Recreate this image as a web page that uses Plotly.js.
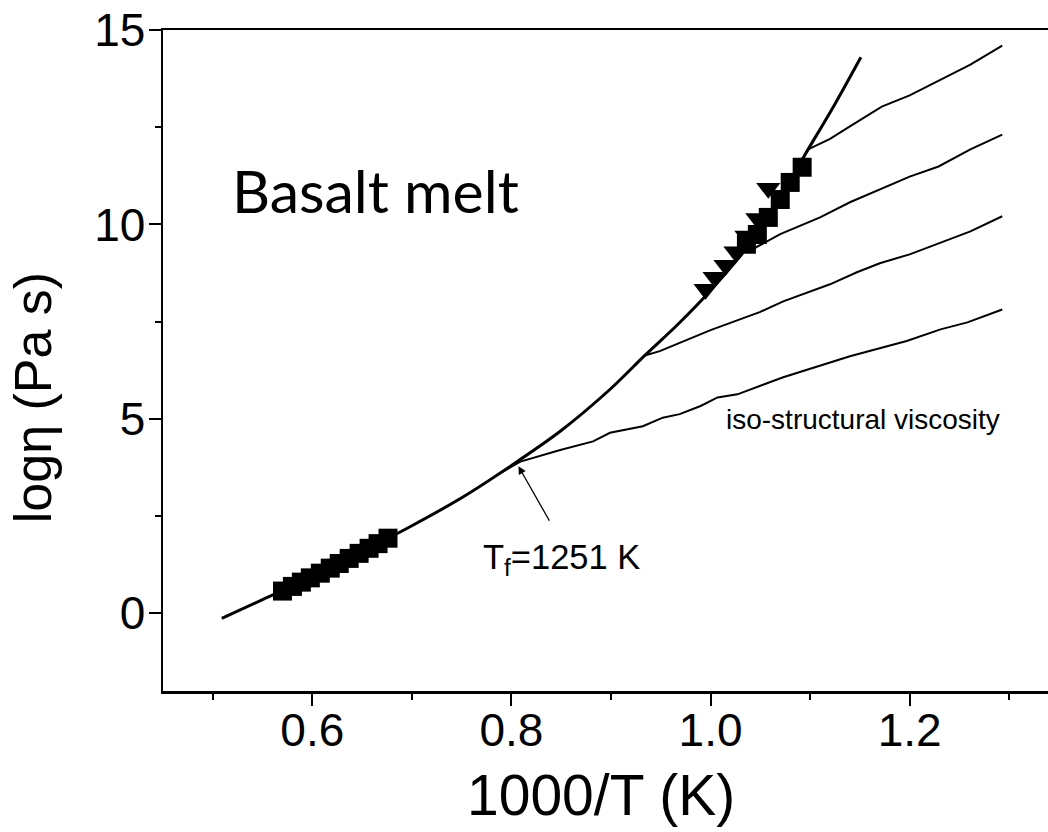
<!DOCTYPE html>
<html>
<head>
<meta charset="utf-8">
<script src="https://cdn.plot.ly/plotly-3.0.1.min.js"></script>
<style>
html,body{margin:0;padding:0;overflow:hidden;background:#fff;}
#chart{width:1070px;height:832px;}
</style>
</head>
<body>
<div id="chart"></div>
<script>
// Main (equilibrium) viscosity curve
const mainX = [0.509, 0.55, 0.60, 0.65, 0.70, 0.75, 0.80, 0.849, 0.90, 0.934, 0.966, 1.00, 1.05, 1.098, 1.125, 1.151];
const mainY = [-0.13, 0.35, 0.93, 1.58, 2.25, 2.97, 3.80, 4.68, 5.78, 6.63, 7.40, 8.30, 9.85, 11.93, 13.10, 14.30];

// High-temperature data (squares)
const sqHiX = [0.570, 0.580, 0.589, 0.598, 0.608, 0.618, 0.627, 0.637, 0.647, 0.657, 0.666, 0.676];
const sqHiY = [0.57, 0.69, 0.80, 0.91, 1.03, 1.16, 1.28, 1.41, 1.54, 1.67, 1.79, 1.93];

// Low-temperature data (squares)
const sqLoX = [1.036, 1.047, 1.058, 1.070, 1.080, 1.092];
const sqLoY = [9.49, 9.74, 10.18, 10.64, 11.08, 11.47];

// Low-temperature data (down triangles)
const triX = [0.995, 1.004, 1.015, 1.025, 1.036, 1.047, 1.058];
const triY = [8.33, 8.64, 8.95, 9.30, 9.70, 10.15, 10.93];

// Iso-structural viscosity lines
const iso1X = [0.785, 0.809, 0.849, 0.882, 0.899, 0.932, 0.952, 0.969, 0.990, 1.007, 1.027, 1.050, 1.073, 1.140, 1.197, 1.231, 1.258, 1.293];
const iso1Y = [3.55, 3.90, 4.20, 4.42, 4.64, 4.81, 5.03, 5.12, 5.33, 5.55, 5.63, 5.84, 6.07, 6.61, 7.00, 7.30, 7.48, 7.81];
const iso2X = [0.934, 0.949, 1.000, 1.050, 1.073, 1.120, 1.147, 1.170, 1.200, 1.230, 1.261, 1.293];
const iso2Y = [6.63, 6.74, 7.28, 7.75, 8.02, 8.46, 8.77, 9.00, 9.23, 9.53, 9.82, 10.21];
const iso3X = [1.035, 1.045, 1.070, 1.110, 1.140, 1.170, 1.200, 1.229, 1.261, 1.293];
const iso3Y = [9.40, 9.40, 9.75, 10.18, 10.57, 10.90, 11.23, 11.49, 11.93, 12.31];
const iso4X = [1.098, 1.120, 1.140, 1.172, 1.200, 1.231, 1.261, 1.293];
const iso4Y = [11.93, 12.20, 12.52, 13.03, 13.32, 13.73, 14.11, 14.60];

const FONT = 'Arial, "Liberation Sans", sans-serif';
const thin = {color:'#000', width:2};

const traces = [
  {x: iso1X, y: iso1Y, mode:'lines', line: thin, hoverinfo:'skip'},
  {x: iso2X, y: iso2Y, mode:'lines', line: thin, hoverinfo:'skip'},
  {x: iso3X, y: iso3Y, mode:'lines', line: thin, hoverinfo:'skip'},
  {x: iso4X, y: iso4Y, mode:'lines', line: thin, hoverinfo:'skip'},
  {x: mainX, y: mainY, mode:'lines', line:{color:'#000', width:3, shape:'spline', smoothing:0.8}},
  {x: sqHiX, y: sqHiY, mode:'markers', marker:{symbol:'square', size:19, color:'#000', line:{width:0}}},
  {x: triX, y: triY, mode:'markers', marker:{symbol:'triangle-down', size:21, color:'#000', line:{width:0}}},
  {x: sqLoX, y: sqLoY, mode:'markers', marker:{symbol:'square', size:19, color:'#000', line:{width:0}}}
];

const layout = {
  width: 1070, height: 832,
  margin: {l:163, r:11, t:30, b:141, pad:0},
  paper_bgcolor:'#fff', plot_bgcolor:'#fff',
  showlegend:false,
  font:{family:FONT, color:'#000'},
  xaxis:{
    range:[0.45, 1.35], tick0:0.2, dtick:0.2, tickformat:'.1f',
    ticks:'outside', ticklen:12, tickwidth:2, tickcolor:'#000',
    minor:{dtick:0.1, tick0:0.1, ticks:'outside', ticklen:6, tickwidth:2, tickcolor:'#000'},
    showline:true, linewidth:2.5, linecolor:'#000', mirror:true,
    showgrid:false, zeroline:false,
    tickfont:{size:46, family:FONT}, ticklabelstandoff:-15
  },
  yaxis:{
    range:[-2, 15], tick0:0, dtick:5,
    ticks:'outside', ticklen:12, tickwidth:2, tickcolor:'#000',
    minor:{dtick:2.5, tick0:0, ticks:'outside', ticklen:6, tickwidth:2, tickcolor:'#000'},
    showline:true, linewidth:2.5, linecolor:'#000', mirror:true,
    showgrid:false, zeroline:false,
    tickfont:{size:46, family:FONT}, ticklabelstandoff:-6
  },
  annotations:[
    {x:0.89, y:-0.158, xref:'x', yref:'paper', xanchor:'center', yanchor:'middle',
     text:'1000/T (K)', showarrow:false, font:{size:57, family:FONT}},
    {x:-0.145, y:0.443, xref:'paper', yref:'paper', xanchor:'center', yanchor:'middle',
     text:'log\u03B7 (Pa s)', showarrow:false, textangle:-90, font:{size:52, family:FONT}},
    {x:0.663, y:10.88, xref:'x', yref:'y', xanchor:'center', yanchor:'middle',
     text:'Basalt melt', showarrow:false, font:{size:59, family:'Lato, "Open Sans", sans-serif'}},
    {x:1.153, y:4.99, xref:'x', yref:'y', xanchor:'center', yanchor:'middle',
     text:'iso-structural viscosity', showarrow:false, font:{size:28, family:FONT}},
    {x:0.85, y:1.39, xref:'x', yref:'y', xanchor:'center', yanchor:'middle',
     text:'T<sub>f</sub>=1251 K', showarrow:false, font:{size:34.5, family:FONT}},
    {x:0.807, y:3.78, xref:'x', yref:'y', ax:0.839, ay:2.34, axref:'x', ayref:'y',
     text:'', showarrow:true, arrowhead:2, arrowsize:1.2, arrowwidth:1.3, arrowcolor:'#000', standoff:0}
  ]
};

Plotly.newPlot('chart', traces, layout, {displayModeBar:false, staticPlot:true});
</script>
</body>
</html>
